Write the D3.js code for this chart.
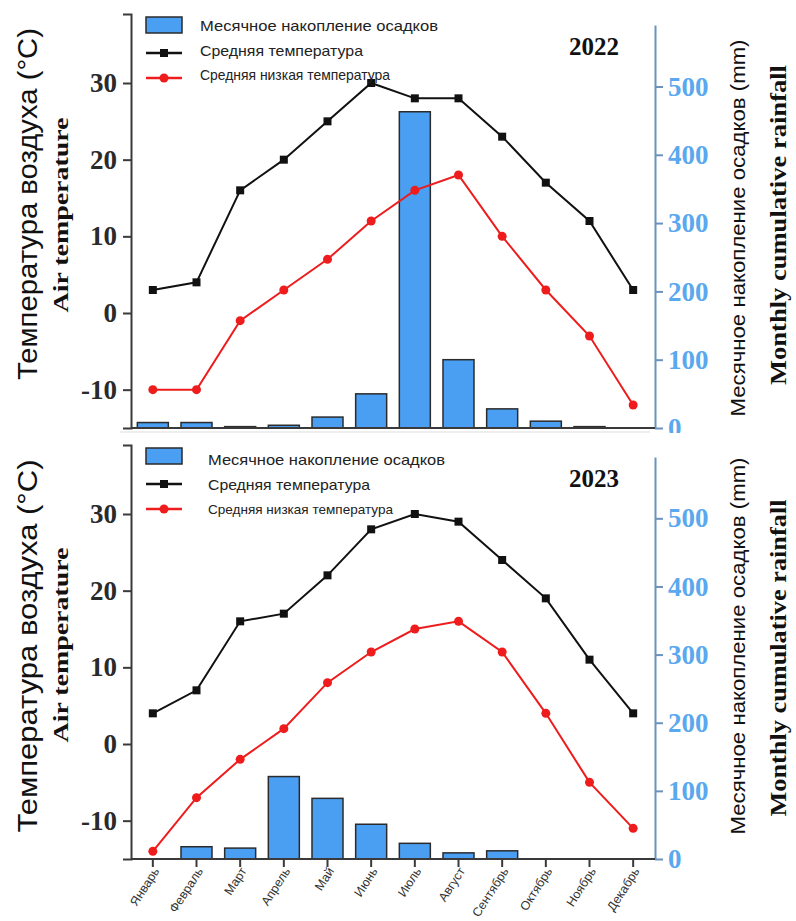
<!DOCTYPE html>
<html>
<head>
<meta charset="utf-8">
<title>Rainfall and temperature</title>
<script src="https://d3js.org/d3.v7.min.js"></script>
<style>
  body { margin: 0; background: white; }
  svg { display: block; }
  .serif { font-family: "Liberation Serif", "Times New Roman", serif; font-weight: bold; }
  .sans { font-family: "Liberation Sans", Arial, sans-serif; }
</style>
</head>
<body>
<script>
// months
var months = ["Январь", "Февраль", "Март", "Апрель", "Май", "Июнь", "Июль", "Август", "Сентябрь", "Октябрь", "Ноябрь", "Декабрь"];

// 2022
var rain2022 = [8, 8, 2, 4, 16, 50, 463, 100, 28, 10, 2, 0];
var avg2022 = [3, 4, 16, 20, 25, 30, 28, 28, 23, 17, 12, 3];
var low2022 = [-10, -10, -1, 3, 7, 12, 16, 18, 10, 3, -3, -12];

// 2023
var rain2023 = [0, 18, 16, 121, 89, 51, 23, 9, 12, 0, 0, 0];
var avg2023 = [4, 7, 16, 17, 22, 28, 30, 29, 24, 19, 11, 4];
var low2023 = [-14, -7, -2, 2, 8, 12, 15, 16, 12, 4, -5, -11];

var tempTicks = [-10, 0, 10, 20, 30];
var rainTicks = [0, 100, 200, 300, 400, 500];
var legendLabels = ["Месячное накопление осадков", "Средняя температура", "Средняя низкая температура"];

var width = 796, height = 921;
var left = 131, right = 655;
var barColor = "#4a9ff2";
var axisBlue = "#6b93bd";
var tickBlue = "#5aa8ee";

var svg = d3.select("body").append("svg")
  .attr("width", width)
  .attr("height", height);

var x = d3.scaleBand().domain(months).range([left, right]).paddingInner(0.29).paddingOuter(0.145);

// o: per-panel layout of the texts (title centres / lengths, legend)
function panel(year, rain, avg, low, top, bottom, rainTop, showMonths, o) {
  var g = svg.append("g");
  g.append("rect").attr("x", 0).attr("y", top - 12).attr("width", width).attr("height", bottom - top + 80).attr("fill", "white");

  var yT = d3.scaleLinear().domain([-15, 39]).range([bottom, top]);
  var yR = d3.scaleLinear().domain([0, 590]).range([bottom, rainTop]);

  // bars
  g.selectAll("rect.bar")
    .data(rain)
    .enter().append("rect")
    .attr("class", "bar")
    .attr("x", function(d, i) { return x(months[i]); })
    .attr("y", function(d) { return yR(d); })
    .attr("width", x.bandwidth())
    .attr("height", function(d) { return bottom - yR(d); })
    .attr("fill", barColor)
    .attr("stroke", "#2b2b2b")
    .attr("stroke-width", 1.5);

  // left axis
  var ax = g.append("g").attr("transform", "translate(" + left + ",0)")
    .call(d3.axisLeft(yT).tickValues(tempTicks).tickSize(8).tickPadding(6).tickFormat(function(d) { return String(d); }));
  ax.select(".domain").attr("stroke", "#3a3a3a").attr("stroke-width", 2);
  ax.selectAll(".tick line").attr("stroke", "#3a3a3a").attr("stroke-width", 2);
  ax.selectAll(".tick text").attr("class", "serif").attr("font-size", 27).attr("fill", "#2a2a2a");

  // right axis
  var ar = g.append("g").attr("transform", "translate(" + right + ",0)")
    .call(d3.axisRight(yR).tickValues(rainTicks).tickSize(8).tickPadding(5).tickSizeOuter(0));
  ar.select(".domain").attr("stroke", axisBlue).attr("stroke-width", 2);
  ar.selectAll(".tick line").attr("stroke", axisBlue).attr("stroke-width", 2);
  ar.selectAll(".tick text").attr("class", "serif").attr("font-size", 27).attr("fill", tickBlue);

  // x axis
  var axb = g.append("g").attr("transform", "translate(0," + bottom + ")")
    .call(d3.axisBottom(x).tickSize(showMonths ? 8 : 0).tickSizeOuter(0).tickFormat(showMonths ? null : ""));
  axb.select(".domain").attr("stroke", "#3a3a3a").attr("stroke-width", 2)
    .attr("d", "M" + left + ",0H" + right);
  axb.selectAll(".tick line").attr("stroke", "#3a3a3a").attr("stroke-width", 2);
  if (showMonths) {
    axb.selectAll(".tick text")
      .attr("class", "sans")
      .attr("font-size", 12.5)
      .attr("fill", "#333")
      .attr("text-anchor", "end")
      .attr("y", 0)
      .attr("dy", 0)
      .attr("transform", "translate(7,12) rotate(-57)");
  }

  // lines
  var line = d3.line()
    .x(function(d, i) { return x(months[i]) + x.bandwidth() / 2; })
    .y(function(d) { return yT(d); });

  g.append("path").datum(avg).attr("d", line).attr("fill", "none").attr("stroke", "#111").attr("stroke-width", 2);
  g.selectAll("rect.avg").data(avg).enter().append("rect")
    .attr("class", "avg")
    .attr("x", function(d, i) { return x(months[i]) + x.bandwidth() / 2 - 4; })
    .attr("y", function(d) { return yT(d) - 4; })
    .attr("width", 8).attr("height", 8).attr("fill", "#111");

  g.append("path").datum(low).attr("d", line).attr("fill", "none").attr("stroke", "#ee1c1c").attr("stroke-width", 2);
  g.selectAll("circle.low").data(low).enter().append("circle")
    .attr("class", "low")
    .attr("cx", function(d, i) { return x(months[i]) + x.bandwidth() / 2; })
    .attr("cy", function(d) { return yT(d); })
    .attr("r", 4.5).attr("fill", "#ee1c1c");

  // legend
  var lg = g.append("g").attr("transform", "translate(146," + (top + 3) + ")");
  lg.append("rect").attr("x", 0).attr("y", 0).attr("width", 36).attr("height", 16)
    .attr("fill", barColor).attr("stroke", "#2b2b2b").attr("stroke-width", 1.5);
  lg.append("line").attr("x1", 0).attr("x2", 36).attr("y1", 36).attr("y2", 36).attr("stroke", "#111").attr("stroke-width", 2.5);
  lg.append("rect").attr("x", 14).attr("y", 32).attr("width", 8).attr("height", 8).attr("fill", "#111");
  lg.append("line").attr("x1", 0).attr("x2", 36).attr("y1", 61).attr("y2", 61).attr("stroke", "#ee1c1c").attr("stroke-width", 2.5);
  lg.append("circle").attr("cx", 18).attr("cy", 61).attr("r", 4.5).attr("fill", "#ee1c1c");
  lg.selectAll("text").data(legendLabels).enter().append("text")
    .attr("class", "sans")
    .attr("x", o.legX)
    .attr("y", function(d, i) { return o.legY + i * 24.5; })
    .attr("font-size", function(d, i) { return o.legSize[i]; })
    .attr("textLength", function(d, i) { return o.legLen[i]; })
    .attr("lengthAdjust", "spacingAndGlyphs")
    .attr("fill", "#222")
    .text(function(d) { return d; });

  // year
  g.append("text").attr("class", "serif").attr("x", 594).attr("y", top + o.yearDy)
    .attr("text-anchor", "middle").attr("font-size", 25).attr("fill", "#111").text(year);

  // axis titles
  function title(cls, size, bx, cy, len, txt) {
    g.append("text").attr("class", cls).attr("font-size", size).attr("fill", "#111")
      .attr("text-anchor", "middle")
      .attr("textLength", len).attr("lengthAdjust", "spacingAndGlyphs")
      .attr("transform", "translate(" + bx + "," + cy + ") rotate(-90)")
      .text(txt);
  }
  title("sans", 27, 37, o.t1[0], o.t1[1], "Температура воздуха (°C)");
  title("serif", 21, 68, o.t2[0], o.t2[1], "Air temperature");
  title("sans", 20, 745, o.t3[0], o.t3[1], "Месячное накопление осадков (mm)");
  title("serif", 23, 786, o.t4[0], o.t4[1], "Monthly cumulative rainfall");
}

panel("2022", rain2022, avg2022, low2022, 14, 428, 25, false, {
  legX: 54, legY: 14, legSize: [14.5, 14.5, 14.5], legLen: [238, 163, 190], yearDy: 41,
  t1: [204, 352], t2: [215, 195], t3: [228, 377], t4: [225, 320]
});
panel("2023", rain2023, avg2023, low2023, 445, 859, 457, true, {
  legX: 62, legY: 17, legSize: [14.5, 14.5, 13.5], legLen: [237, 162, 185], yearDy: 42,
  t1: [646, 373], t2: [645, 195], t3: [646, 377], t4: [658, 317]
});

// thin separator between the two panels
svg.append("line").attr("x1", 120).attr("x2", 650).attr("y1", 432).attr("y2", 432)
  .attr("stroke", "#ddd").attr("stroke-width", 1);
</script>
</body>
</html>
